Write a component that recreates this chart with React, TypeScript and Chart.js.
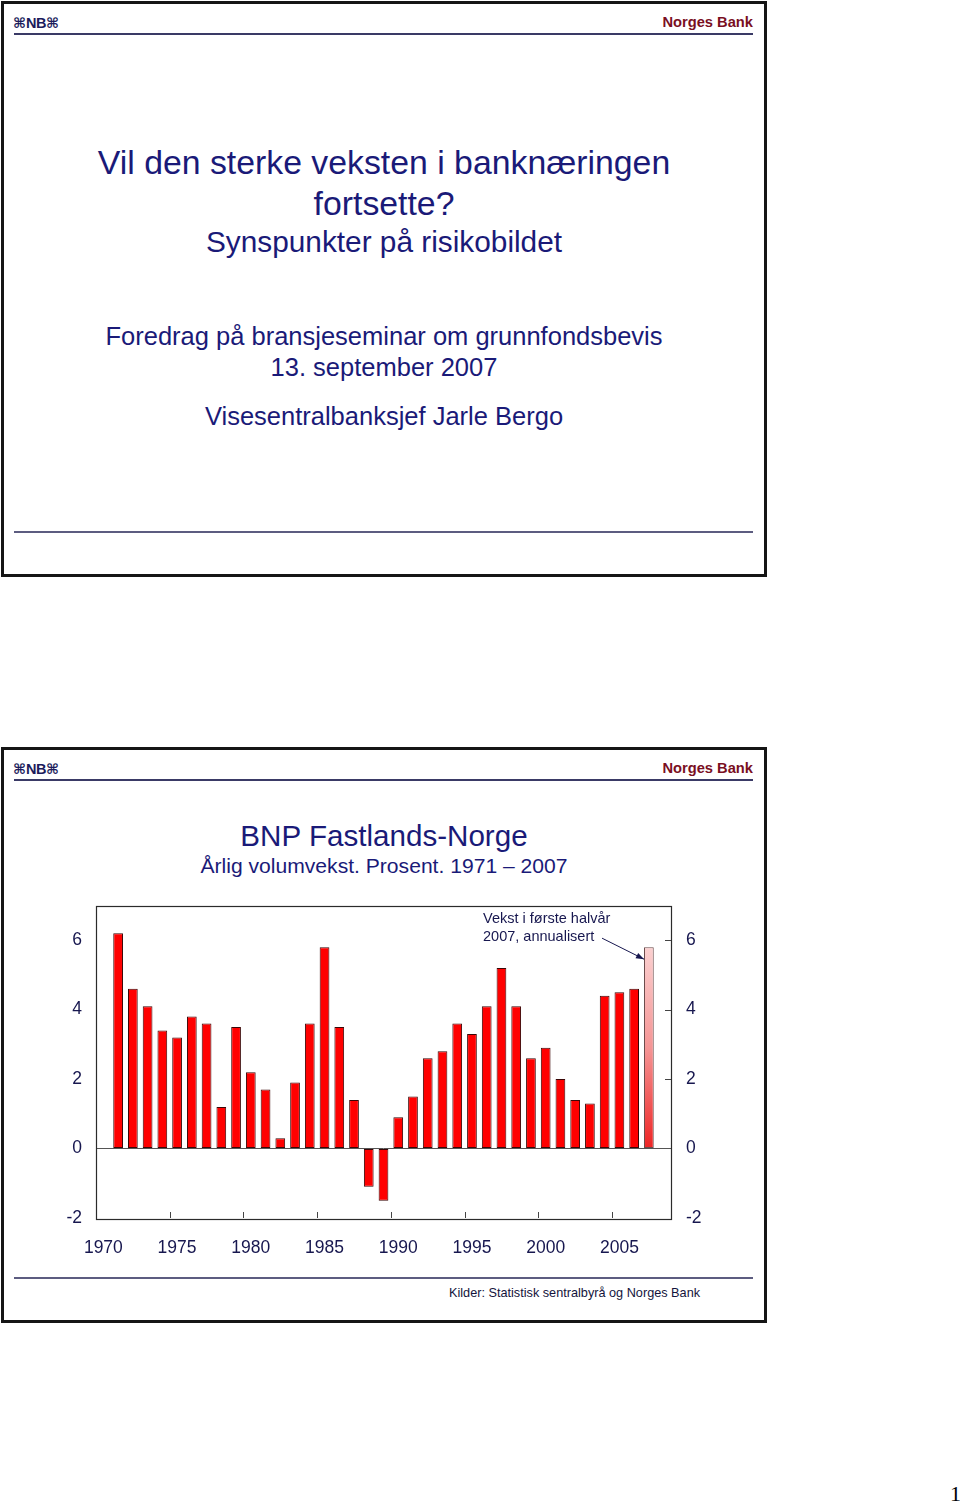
import React, { useEffect, useRef } from "react";
import { Chart, registerables } from "chart.js";

Chart.register(...registerables);

// ---------- data ----------
const years = [
  "1970", "1971", "1972", "1973", "1974", "1975", "1976", "1977", "1978", "1979",
  "1980", "1981", "1982", "1983", "1984", "1985", "1986", "1987", "1988", "1989",
  "1990", "1991", "1992", "1993", "1994", "1995", "1996", "1997", "1998", "1999",
  "2000", "2001", "2002", "2003", "2004", "2005", "2006", "2007", "2008",
];
const growth: (number | null)[] = [
  null, 6.2, 4.6, 4.1, 3.4, 3.2, 3.8, 3.6, 1.2, 3.5,
  2.2, 1.7, 0.3, 1.9, 3.6, 5.8, 3.5, 1.4, -1.1, -1.5,
  0.9, 1.5, 2.6, 2.8, 3.6, 3.3, 4.1, 5.2, 4.1, 2.6,
  2.9, 2.0, 1.4, 1.3, 4.4, 4.5, 4.6, 5.8, null,
];
const highlightYear = "2007";
const yTicks = [-2, 0, 2, 4, 6];
const xLabelYears = ["1970", "1975", "1980", "1985", "1990", "1995", "2000", "2005"];
const annotationLines = ["Vekst i første halvår", "2007, annualisert"];

// ---------- styles ----------
const SANS = '"Liberation Sans", Arial, Helvetica, sans-serif';
const NAVY = "#1a1a78";
const AXIS_NAVY = "#17174f";
const RED_BRAND = "#7a0f1f";
const RULE = "#3a3a66";

const framePlugin = {
  id: "framePlugin",
  afterDatasetsDraw(chart: any) {
    const { ctx, chartArea } = chart;
    const xs = chart.scales.x;
    const ys = chart.scales.y;
    ctx.save();
    // frame
    ctx.strokeStyle = "#2b2b2b";
    ctx.lineWidth = 1.2;
    ctx.strokeRect(
      Math.round(chartArea.left) + 0.5,
      Math.round(chartArea.top) + 0.5,
      Math.round(chartArea.right - chartArea.left),
      Math.round(chartArea.bottom - chartArea.top)
    );
    // inward x ticks at category boundaries
    ctx.strokeStyle = "#444";
    ctx.lineWidth = 1;
    years.forEach((y, i) => {
      if (i > 0 && xLabelYears.includes(y)) {
        const px = (xs.getPixelForValue(i) + xs.getPixelForValue(i - 1)) / 2;
        ctx.beginPath();
        ctx.moveTo(Math.round(px) + 0.5, chartArea.bottom);
        ctx.lineTo(Math.round(px) + 0.5, chartArea.bottom - 6);
        ctx.stroke();
      }
    });
    // inward right ticks
    yTicks.forEach((v) => {
      if (v > 0) {
        const py = ys.getPixelForValue(v);
        ctx.beginPath();
        ctx.moveTo(chartArea.right - 6, Math.round(py) + 0.5);
        ctx.lineTo(chartArea.right, Math.round(py) + 0.5);
        ctx.stroke();
      }
    });
    // annotation
    const hi = years.indexOf(highlightYear);
    const el = chart.getDatasetMeta(0).data[hi];
    if (el) {
      const tipX = el.x - el.width / 2;
      const tipY = ys.getPixelForValue(growth[hi] as number) + 12;
      const tailX = tipX - 42;
      const tailY = tipY - 21;
      ctx.strokeStyle = AXIS_NAVY;
      ctx.fillStyle = AXIS_NAVY;
      ctx.lineWidth = 1;
      ctx.beginPath();
      ctx.moveTo(tailX, tailY);
      ctx.lineTo(tipX, tipY);
      ctx.stroke();
      const ang = Math.atan2(tipY - tailY, tipX - tailX);
      const L = 8;
      const W = 3;
      ctx.beginPath();
      ctx.moveTo(tipX, tipY);
      ctx.lineTo(tipX - L * Math.cos(ang) + W * Math.sin(ang), tipY - L * Math.sin(ang) - W * Math.cos(ang));
      ctx.lineTo(tipX - L * Math.cos(ang) - W * Math.sin(ang), tipY - L * Math.sin(ang) + W * Math.cos(ang));
      ctx.closePath();
      ctx.fill();
      ctx.font = `14.5px ${SANS}`;
      ctx.textAlign = "left";
      ctx.textBaseline = "middle";
      ctx.fillText(annotationLines[0], tipX - 161, tipY - 40);
      ctx.fillText(annotationLines[1], tipX - 161, tipY - 22);
    }
    ctx.restore();
  },
};

function BarChart() {
  const ref = useRef<HTMLCanvasElement | null>(null);
  useEffect(() => {
    if (!ref.current) return;
    const tickFont = { family: SANS, size: 17.5 };
    const chart = new Chart(ref.current, {
      type: "bar",
      data: {
        labels: years,
        datasets: [
          {
            data: growth,
            barPercentage: 0.66,
            categoryPercentage: 1,
            borderWidth: 1,
            borderSkipped: false,
            borderColor: (c: any) => (years[c.dataIndex] === highlightYear ? "#6a4a4a" : "#3a0606"),
            backgroundColor: (c: any) => {
              if (years[c.dataIndex] !== highlightYear) return "#ff0000";
              const ch = c.chart;
              const ys = ch.scales.y;
              if (!ch.chartArea || !ys) return "#f59090";
              const top = ys.getPixelForValue(growth[c.dataIndex] as number);
              const bottom = ys.getPixelForValue(0);
              const g = ch.ctx.createLinearGradient(0, top, 0, bottom);
              g.addColorStop(0, "#fbd0d0");
              g.addColorStop(0.5, "#f59595");
              g.addColorStop(1, "#ee2424");
              return g;
            },
          } as any,
        ],
      },
      options: {
        animation: false,
        responsive: false,
        maintainAspectRatio: false,
        layout: { padding: { top: 25, left: 0, right: 0, bottom: 0 } },
        plugins: { legend: { display: false }, tooltip: { enabled: false } },
        scales: {
          x: {
            type: "category",
            offset: true,
            grid: { display: false, drawTicks: false },
            border: { display: false },
            ticks: {
              autoSkip: false,
              maxRotation: 0,
              minRotation: 0,
              padding: 20,
              color: AXIS_NAVY,
              font: tickFont,
              callback: (_v: any, i: number) => (xLabelYears.includes(years[i]) ? years[i] : ""),
            },
            afterFit: (s: any) => {
              s.height = 62;
            },
          },
          y: {
            position: "left",
            min: -2,
            max: 7,
            afterBuildTicks: (s: any) => {
              s.ticks = yTicks.map((v) => ({ value: v }));
            },
            grid: {
              drawTicks: false,
              lineWidth: 1,
              color: (c: any) => (c.tick && c.tick.value === 0 ? "#555555" : "rgba(0,0,0,0)"),
            },
            border: { display: false },
            ticks: { padding: 14, color: AXIS_NAVY, font: tickFont },
            afterFit: (s: any) => {
              s.width = 96;
            },
          },
          y2: {
            position: "right",
            min: -2,
            max: 7,
            afterBuildTicks: (s: any) => {
              s.ticks = yTicks.map((v) => ({ value: v }));
            },
            grid: { display: false, drawTicks: false },
            border: { display: false },
            ticks: { padding: 15, color: AXIS_NAVY, font: tickFont },
            afterFit: (s: any) => {
              s.width = 89;
            },
          },
        },
      } as any,
      plugins: [framePlugin],
    });
    return () => chart.destroy();
  }, []);
  return (
    <canvas
      ref={ref}
      width={760}
      height={400}
      style={{ position: "absolute", left: 0, top: 880, width: 760, height: 400 }}
    />
  );
}

function Line(props: { text: string; cy: number; size: number; color?: string }) {
  return (
    <div
      style={{
        position: "absolute",
        left: 0,
        width: 768,
        top: props.cy - props.size / 2,
        textAlign: "center",
        fontFamily: SANS,
        fontSize: props.size,
        lineHeight: 1,
        color: props.color || NAVY,
        whiteSpace: "nowrap",
      }}
    >
      {props.text}
    </div>
  );
}

function Header(props: { top: number }) {
  const t = props.top;
  return (
    <>
      <div
        style={{
          position: "absolute",
          left: 13,
          top: t + 12,
          height: 20,
          lineHeight: "20px",
          color: "#1c1c5c",
          whiteSpace: "nowrap",
        }}
      >
        <span style={{ fontFamily: '"DejaVu Sans"', fontSize: 14, fontWeight: 700 }}>⌘</span>
        <span style={{ fontFamily: SANS, fontSize: 14.5, fontWeight: 700, letterSpacing: -0.5 }}>NB</span>
        <span style={{ fontFamily: '"DejaVu Sans"', fontSize: 14, fontWeight: 700 }}>⌘</span>
      </div>
      <div
        style={{
          position: "absolute",
          right: 960 - 753,
          top: t + 21 - 9,
          fontFamily: SANS,
          fontSize: 14.7,
          fontWeight: 700,
          lineHeight: "18px",
          color: RED_BRAND,
          whiteSpace: "nowrap",
        }}
      >
        Norges Bank
      </div>
      <div style={{ position: "absolute", left: 14, top: t + 32, width: 739, height: 2, background: RULE }} />
    </>
  );
}

function Slide(props: { top: number; children?: React.ReactNode }) {
  return (
    <>
      <div
        style={{
          position: "absolute",
          left: 1,
          top: props.top,
          width: 766,
          height: 576,
          boxSizing: "border-box",
          border: "3px solid #151515",
          background: "#fff",
        }}
      />
      <Header top={props.top} />
      <div
        style={{ position: "absolute", left: 14, top: props.top + 530, width: 739, height: 2, background: "#5c5c80" }}
      />
      {props.children}
    </>
  );
}

export default function App() {
  return (
    <div
      style={{
        position: "absolute",
        left: 0,
        top: 0,
        width: 960,
        height: 1507,
        overflow: "hidden",
        background: "#fff",
      }}
    >
      <Slide top={1}>
        <Line text="Vil den sterke veksten i banknæringen" cy={163} size={33.8} />
        <Line text="fortsette?" cy={204} size={33.8} />
        <Line text="Synspunkter på risikobildet" cy={242} size={29.8} />
        <Line text="Foredrag på bransjeseminar om grunnfondsbevis" cy={337} size={25.5} />
        <Line text="13. september 2007" cy={368} size={25.5} />
        <Line text="Visesentralbanksjef Jarle Bergo" cy={417} size={25.5} />
      </Slide>
      <Slide top={747}>
        <Line text="BNP Fastlands-Norge" cy={836} size={29.6} />
        <Line text="Årlig volumvekst. Prosent. 1971 – 2007" cy={866} size={21.1} />
        <div
          style={{
            position: "absolute",
            left: 449,
            top: 1293 - 7,
            fontFamily: SANS,
            fontSize: 12.7,
            lineHeight: "14px",
            color: "#14143c",
            whiteSpace: "nowrap",
          }}
        >
          Kilder: Statistisk sentralbyrå og Norges Bank
        </div>
      </Slide>
      <BarChart />
      <div
        style={{
          position: "absolute",
          left: 950,
          top: 1482,
          fontFamily: '"Liberation Serif", "Times New Roman", serif',
          fontSize: 22,
          lineHeight: "24px",
          color: "#000",
        }}
      >
        1
      </div>
    </div>
  );
}
